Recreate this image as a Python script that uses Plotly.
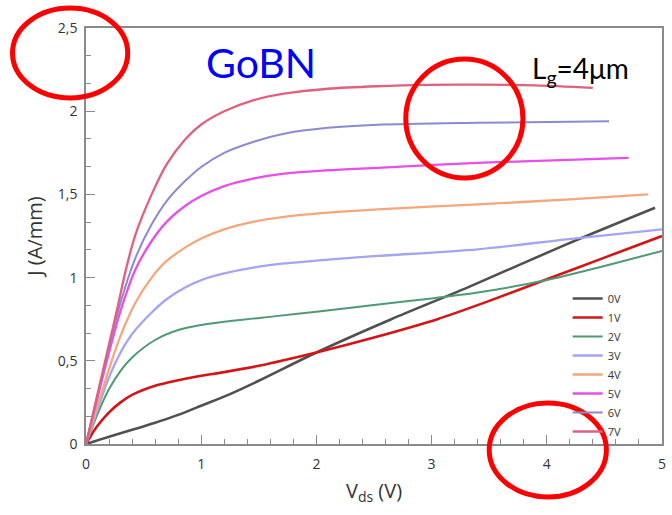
import plotly.graph_objects as go

# ---- data ----
v0 = [0, 0.2, 0.4, 0.6, 0.8, 1.0, 1.25, 1.5, 2.0, 2.65, 3.31, 4.17, 4.94]
j0 = [0, 0.044, 0.085, 0.128, 0.175, 0.23, 0.30, 0.38, 0.55, 0.75, 0.94, 1.20, 1.42]

v1 = [0, 0.09, 0.2, 0.3, 0.4, 0.6, 0.8, 1.0, 1.2, 1.5, 2.0, 2.5, 3.05, 3.5, 4.0, 4.5, 5.0]
j1 = [0, 0.10, 0.19, 0.25, 0.295, 0.35, 0.383, 0.41, 0.432, 0.47, 0.55, 0.64, 0.75, 0.86, 0.99, 1.12, 1.25]

v2 = [0, 0.1, 0.2, 0.3, 0.4, 0.6, 0.8, 1.0, 1.2, 1.67, 2.0, 2.5, 3.0, 3.4, 4.0, 4.5, 5.0]
j2 = [0, 0.18, 0.33, 0.44, 0.52, 0.625, 0.685, 0.715, 0.735, 0.77, 0.795, 0.835, 0.875, 0.91, 0.985, 1.07, 1.16]

v3 = [0, 0.2, 0.3, 0.4, 0.57, 0.7, 0.86, 1.0, 1.2, 1.45, 1.72, 2.1, 2.53, 3.4, 4.17, 5.0]
j3 = [0, 0.40, 0.55, 0.66, 0.79, 0.87, 0.94, 0.985, 1.025, 1.06, 1.085, 1.108, 1.13, 1.17, 1.23, 1.29]

v4 = [0, 0.2, 0.3, 0.43, 0.57, 0.7, 0.86, 1.0, 1.2, 1.45, 1.72, 2.1, 2.53, 3.4, 4.2, 4.88]
j4 = [0, 0.45, 0.65, 0.85, 1.0, 1.10, 1.18, 1.235, 1.29, 1.335, 1.365, 1.39, 1.41, 1.44, 1.47, 1.50]

v5 = [0, 0.2, 0.3, 0.43, 0.57, 0.7, 0.86, 1.0, 1.2, 1.45, 1.72, 2.1, 2.53, 3.4, 4.71]
j5 = [0, 0.55, 0.80, 1.05, 1.22, 1.335, 1.43, 1.49, 1.55, 1.595, 1.625, 1.645, 1.66, 1.69, 1.72]

v6 = [0, 0.2, 0.3, 0.43, 0.57, 0.7, 0.86, 1.0, 1.2, 1.45, 1.72, 2.1, 2.53, 3.4, 4.54]
j6 = [0, 0.58, 0.85, 1.12, 1.32, 1.46, 1.58, 1.665, 1.75, 1.815, 1.865, 1.90, 1.918, 1.93, 1.94]

v7 = [0, 0.1, 0.2, 0.28, 0.34, 0.43, 0.57, 0.7, 0.86, 1.0, 1.2, 1.45, 1.72, 2.1, 2.53, 3.0, 3.4, 3.9, 4.4]
j7 = [0, 0.30, 0.60, 0.84, 1.03, 1.26, 1.50, 1.68, 1.83, 1.92, 2.00, 2.065, 2.105, 2.135, 2.15, 2.158, 2.16, 2.155, 2.14]

names = ["0V", "1V", "2V", "3V", "4V", "5V", "6V", "7V"]
xs = [v0, v1, v2, v3, v4, v5, v6, v7]
ys = [j0, j1, j2, j3, j4, j5, j6, j7]
colors = ["#505050", "#d41515", "#4f9a75", "#a4a4f2", "#f4a67c",
          "#e84ee8", "#8a8ad0", "#e0607e"]
widths = [2.6, 2.6, 2, 2.3, 2.3, 2.3, 2, 2.3]

xtick_vals = [0, 1, 2, 3, 4, 5]
xtick_text = ["0", "1", "2", "3", "4", "5"]
ytick_vals = [0, 0.5, 1, 1.5, 2, 2.5]
ytick_text = ["0", "0,5", "1", "1,5", "2", "2,5"]

# ---- layout geometry ----
W, H = 672, 515
ML, MR, MT, MB = 86, 6, 28, 71
PW, PH = W - ML - MR, H - MT - MB


def px(x):
    return (x - ML) / PW


def py(y):
    return (H - MB - y) / PH


fig = go.Figure()
for x, y, n, c, w in zip(xs, ys, names, colors, widths):
    fig.add_trace(go.Scatter(x=x, y=y, name=n, mode="lines",
                             line=dict(color=c, width=w, shape="spline", smoothing=0.8)))

axis_common = dict(showline=True, linecolor="#8a8a8a", linewidth=1.5, mirror=True,
                   ticks="inside", tickcolor="#8a8a8a", tickwidth=1.2, ticklen=9,
                   showgrid=False, zeroline=False,
                   tickfont=dict(family="Open Sans", size=14, color="#333333"))

fig.update_layout(
    width=W, height=H,
    margin=dict(l=ML, r=MR, t=MT, b=MB),
    paper_bgcolor="white", plot_bgcolor="white",
    showlegend=True,
    legend=dict(x=px(571), y=py(284), xanchor="left", yanchor="top",
                font=dict(family="Open Sans", size=11, color="#333333"),
                bgcolor="rgba(0,0,0,0)", tracegroupgap=0, itemwidth=30),
    xaxis=dict(range=[0, 5], tickvals=xtick_vals, ticktext=xtick_text,
               ticklabelstandoff=6,
               minor=dict(ticks="inside", ticklen=5, dtick=0.2, tick0=0,
                          tickcolor="#8a8a8a", tickwidth=1),
               title=dict(text="V<sub>ds</sub> (V)", standoff=12,
                          font=dict(family="Open Sans", size=20, color="#333333")),
               **axis_common),
    yaxis=dict(range=[0, 2.5], tickvals=ytick_vals, ticktext=ytick_text,
               ticklabelstandoff=4,
               minor=dict(ticks="inside", ticklen=5, dtick=0.5 / 3, tick0=0,
                          tickcolor="#8a8a8a", tickwidth=1),
               title=dict(text="J (A/mm)", standoff=10,
                          font=dict(family="Open Sans", size=20, color="#333333")),
               **axis_common),
)

fig.add_annotation(x=px(262), y=py(62), xref="paper", yref="paper",
                   xanchor="center", yanchor="middle",
                   text="GoBN", showarrow=False,
                   font=dict(family="Lato", size=41, color="#0000ff"))
fig.add_annotation(x=px(584), y=py(70), xref="paper", yref="paper",
                   xanchor="center", yanchor="middle",
                   text="L<sub>g</sub>=4μm", showarrow=False,
                   font=dict(family="Lato", size=28, color="#000000"))

# red highlight circles
circles = [(12, 8, 128, 98), (408, 59, 526, 178), (492, 403, 610, 497)]
for (x0, y0, x1, y1) in circles:
    fig.add_shape(type="circle", xref="paper", yref="paper",
                  x0=px(x0), x1=px(x1), y0=py(y1), y1=py(y0),
                  line=dict(color="#ff0000", width=5))

fig.write_html("out.html")
